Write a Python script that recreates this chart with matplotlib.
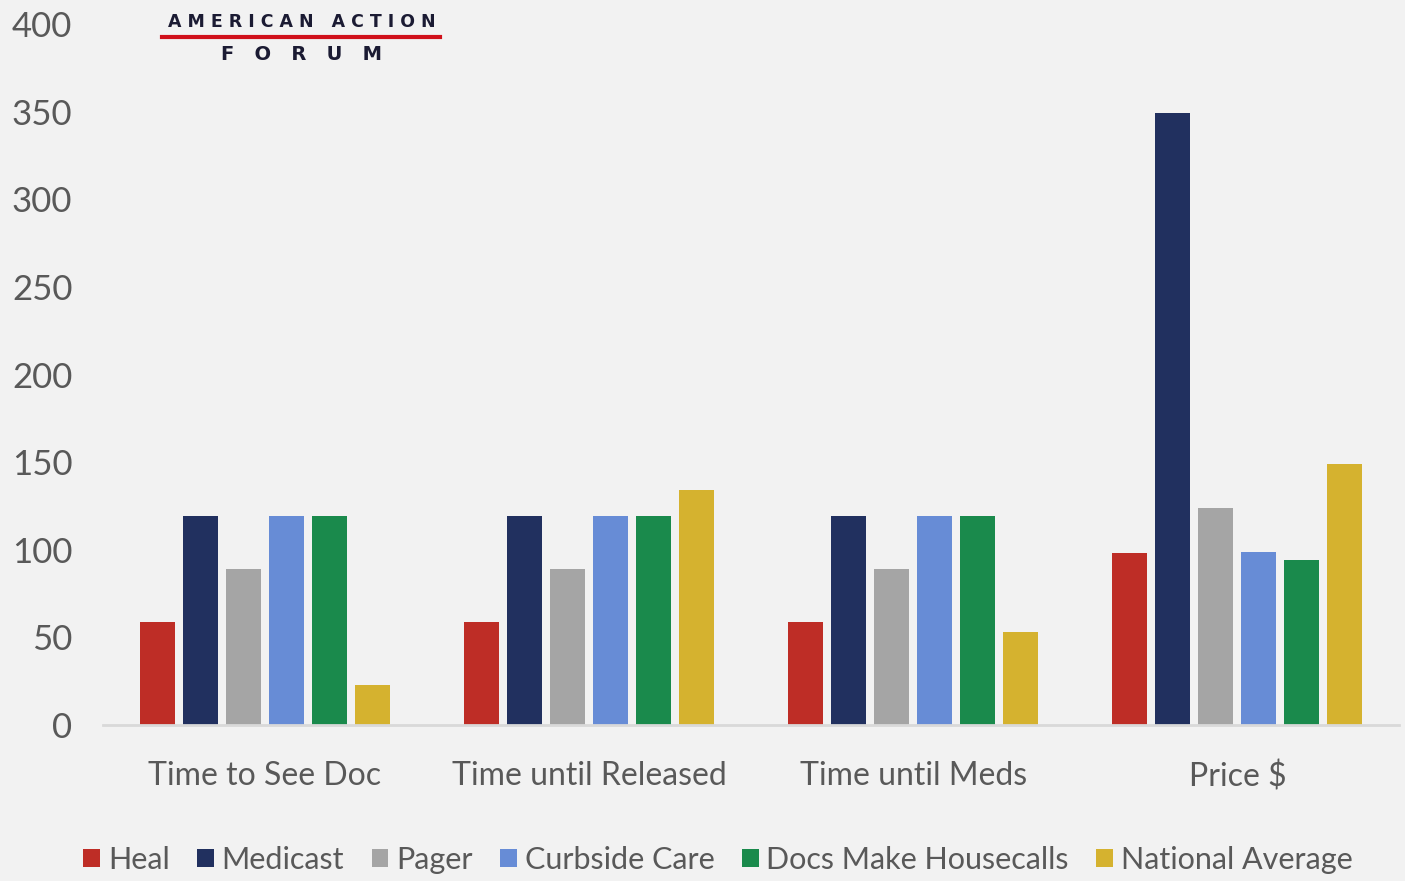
import matplotlib.pyplot as plt
import numpy as np
from matplotlib.lines import Line2D
from matplotlib.patches import Patch

categories = ["Time to See Doc", "Time until Released", "Time until Meds", "Price $"]
series_names = ["Heal", "Medicast", "Pager", "Curbside Care", "Docs Make Housecalls", "National Average"]
heal = [59, 59, 59, 98]
medicast = [119, 119, 119, 349]
pager = [89, 89, 89, 124]
curbside = [119, 119, 119, 99]
docs = [119, 119, 119, 94]
national = [23, 134, 53, 149]
yticks = [0, 50, 100, 150, 200, 250, 300, 350, 400]

colors = ["#BE2D26", "#21305F", "#A5A5A5", "#678CD6", "#1A8A4C", "#D5B22F"]
bg = "#F2F2F2"
txt = "#595959"
font = "Lato"

fig = plt.figure(figsize=(14.05, 8.81), dpi=100, facecolor=bg)
ax = fig.add_axes([0.0733, 0.177, 0.9227, 0.7958], facecolor=bg)

x = np.arange(len(categories))
stride = 0.1327
width = 0.108
allseries = [heal, medicast, pager, curbside, docs, national]
for i, (vals, c) in enumerate(zip(allseries, colors)):
    ax.bar(x + (i - 2.5) * stride, vals, width, color=c, zorder=2)

ax.set_xlim(-0.5, 3.5)
ax.set_ylim(0, 400)
ax.set_yticks(yticks)
ax.set_yticklabels([str(v) for v in yticks], fontsize=25, color=txt, family=font)
ax.set_xticks(x)
ax.set_xticklabels(categories, fontsize=23, color=txt, family=font)
ax.tick_params(axis="both", length=0)
ax.tick_params(axis="y", pad=22)
ax.tick_params(axis="x", pad=26)
for s in ["top", "right", "left"]:
    ax.spines[s].set_visible(False)
ax.spines["bottom"].set_color("#D9D9D9")
ax.spines["bottom"].set_linewidth(2)

handles = [Patch(facecolor=c, label=n) for c, n in zip(colors, series_names)]
fig.legend(handles=handles, loc="center", bbox_to_anchor=(0.511, 0.024), ncol=6,
           frameon=False, handlelength=0.55, handleheight=0.55, handletextpad=0.25,
           columnspacing=0.9, prop={"family": font, "size": 22}, labelcolor=txt)

# logo
fig.text(0.2145, 0.975, "A M E R I C A N   A C T I O N", ha="center", va="center",
         fontsize=12.5, fontweight="bold", color="#1B1B33", family="DejaVu Sans")
fig.add_artist(Line2D([162 / 1405, 440 / 1405], [1 - 37 / 881, 1 - 37 / 881],
                      color="#D0101A", lw=3, transform=fig.transFigure))
fig.text(0.2145, 0.938, "F   O   R   U   M", ha="center", va="center",
         fontsize=14, fontweight="bold", color="#1B1B33", family="DejaVu Sans")

fig.savefig("out.png", dpi=100, facecolor=bg)
